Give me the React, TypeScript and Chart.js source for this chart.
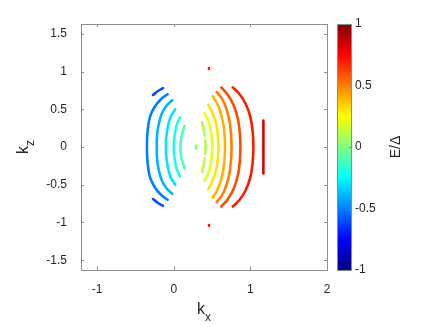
import React, { useEffect, useRef } from "react";
import { Chart, registerables } from "chart.js";
Chart.register(...registerables);

// axis ticks
const xTicks = [-1, 0, 1, 2];
const yTicks = [-1.5, -1, -0.5, 0, 0.5, 1, 1.5];
const cbTicks = [-1, -0.5, 0, 0.5, 1];
const cbTickLabels = ["-1", "-0.5", "0", "0.5", "1"];

// contour pieces [kx, kz], E/Δ level noted per array
const arcM06a = [[-0.27, 0.69], [-0.2, 0.745], [-0.14, 0.78]]; // -0.6
const arcM06b = [[-0.27, -0.69], [-0.2, -0.745], [-0.14, -0.78]]; // -0.6
const arcM05 = [[-0.08, 0.7], [-0.17, 0.63], [-0.25, 0.53], [-0.31, 0.4], [-0.34, 0.22], [-0.35, 0], [-0.34, -0.22], [-0.31, -0.4], [-0.25, -0.53], [-0.17, -0.63], [-0.08, -0.7]];
const arcM04 = [[-0.02, 0.62], [-0.1, 0.54], [-0.16, 0.43], [-0.2, 0.28], [-0.22, 0.12], [-0.22, 0], [-0.22, -0.12], [-0.2, -0.28], [-0.16, -0.43], [-0.1, -0.54], [-0.02, -0.62]];
const arcM03 = [[0.02, 0.5], [-0.04, 0.4], [-0.08, 0.25], [-0.1, 0.1], [-0.1, 0], [-0.1, -0.1], [-0.08, -0.25], [-0.04, -0.4], [0.02, -0.5]];
const arcM02 = [[0.08, 0.39], [0.035, 0.28], [0.01, 0.14], [0, 0], [0.01, -0.14], [0.035, -0.28], [0.08, -0.39]];
const arcM01 = [[0.14, 0.28], [0.105, 0.16], [0.09, 0.05], [0.09, -0.05], [0.105, -0.16], [0.14, -0.28]];
const dot00 = [[0.29, 0.02], [0.29, -0.02]];
const arcP01a = [[0.37, 0.33], [0.395, 0.22], [0.405, 0.15]];
const arcP01b = [[0.41, 0.09], [0.415, 0], [0.41, -0.09]];
const arcP01c = [[0.405, -0.15], [0.395, -0.22], [0.37, -0.33]];
const arcP02 = [[0.4, 0.45], [0.45, 0.35], [0.48, 0.22], [0.5, 0.08], [0.5, -0.08], [0.48, -0.22], [0.45, -0.35], [0.4, -0.45]];
const arcP03 = [[0.45, 0.56], [0.5, 0.46], [0.55, 0.32], [0.575, 0.16], [0.585, 0], [0.575, -0.16], [0.55, -0.32], [0.5, -0.46], [0.45, -0.56]];
const arcP04 = [[0.51, 0.67], [0.57, 0.57], [0.62, 0.43], [0.655, 0.25], [0.67, 0], [0.655, -0.25], [0.62, -0.43], [0.57, -0.57], [0.51, -0.67]];
const arcP05 = [[0.56, 0.73], [0.63, 0.64], [0.69, 0.5], [0.735, 0.3], [0.755, 0], [0.735, -0.3], [0.69, -0.5], [0.63, -0.64], [0.56, -0.73]];
const arcP06 = [[0.62, 0.79], [0.7, 0.7], [0.78, 0.56], [0.84, 0.36], [0.865, 0.15], [0.87, 0], [0.865, -0.15], [0.84, -0.36], [0.78, -0.56], [0.7, -0.7], [0.62, -0.79]];
const arcP07 = [[0.77, 0.79], [0.86, 0.7], [0.94, 0.57], [1.0, 0.4], [1.03, 0.2], [1.04, 0], [1.03, -0.2], [1.0, -0.4], [0.94, -0.57], [0.86, -0.7], [0.77, -0.79]];
const lineP08 = [[1.17, 0.35], [1.17, -0.35]];
const dotP07a = [[0.46, 1.045], [0.46, 1.035]];
const dotP07b = [[0.46, -1.035], [0.46, -1.045]];

const pieces: [number, number[][]][] = [
  [-0.6, arcM06a], [-0.6, arcM06b], [-0.5, arcM05], [-0.4, arcM04], [-0.3, arcM03],
  [-0.2, arcM02], [-0.1, arcM01], [0, dot00], [0.1, arcP01a], [0.1, arcP01b], [0.1, arcP01c],
  [0.2, arcP02], [0.3, arcP03], [0.4, arcP04], [0.5, arcP05], [0.6, arcP06], [0.7, arcP07],
  [0.8, lineP08], [0.7, dotP07a], [0.7, dotP07b],
];

function clamp(v: number) { return Math.max(0, Math.min(1, v)); }
function jet(E: number) {
  const t = (E + 1) / 2;
  const r = clamp(1.5 - Math.abs(4 * t - 3));
  const g = clamp(1.5 - Math.abs(4 * t - 2));
  const b = clamp(1.5 - Math.abs(4 * t - 1));
  return `rgb(${Math.round(r * 255)},${Math.round(g * 255)},${Math.round(b * 255)})`;
}

const FONT = "'Liberation Sans', Arial, Helvetica, sans-serif";
const TXT = "#262626";
const AX = "#8c8c8c";

const overlay = {
  id: "overlay",
  afterDraw(chart: any) {
    const ctx = chart.ctx;
    const { left, right, top, bottom } = chart.chartArea;
    const xs = chart.scales.x, ys = chart.scales.y;
    ctx.save();
    // frame
    ctx.strokeStyle = AX;
    ctx.lineWidth = 1;
    ctx.strokeRect(Math.round(left) + 0.5, Math.round(top) + 0.5, Math.round(right - left), Math.round(bottom - top));
    ctx.beginPath();
    for (const v of xTicks) {
      const x = Math.round(xs.getPixelForValue(v)) + 0.5;
      ctx.moveTo(x, bottom); ctx.lineTo(x, bottom - 3);
      ctx.moveTo(x, top); ctx.lineTo(x, top + 3);
    }
    for (const v of yTicks) {
      const y = Math.round(ys.getPixelForValue(v)) + 0.5;
      ctx.moveTo(left, y); ctx.lineTo(left + 3, y);
      ctx.moveTo(right, y); ctx.lineTo(right - 3, y);
    }
    ctx.stroke();

    // x title k_x
    ctx.fillStyle = TXT;
    ctx.textBaseline = "alphabetic";
    ctx.textAlign = "left";
    ctx.font = `16px ${FONT}`;
    const kw = ctx.measureText("k").width;
    const kx = (left + right) / 2 - 7;
    ctx.fillText("k", kx, 314);
    ctx.font = `12px ${FONT}`;
    ctx.fillText("x", kx + kw, 321);

    // y title k_z
    ctx.save();
    ctx.translate(28, 154);
    ctx.rotate(-Math.PI / 2);
    ctx.font = `16px ${FONT}`;
    ctx.fillText("k", 0, 0);
    ctx.font = `12px ${FONT}`;
    ctx.fillText("z", kw, 6);
    ctx.restore();

    // colorbar
    const cbL = 337, cbR = 352, cbT = top, cbB = bottom;
    const grad = ctx.createLinearGradient(0, cbB, 0, cbT);
    for (let i = 0; i <= 64; i++) {
      const f = i / 64;
      grad.addColorStop(f, jet(-1 + 2 * f));
    }
    ctx.fillStyle = grad;
    ctx.fillRect(cbL, cbT, cbR - cbL, cbB - cbT);
    ctx.strokeStyle = AX;
    ctx.strokeRect(cbL + 0.5, Math.round(cbT) + 0.5, cbR - cbL - 1, Math.round(cbB - cbT));
    ctx.font = `12px ${FONT}`;
    ctx.fillStyle = TXT;
    ctx.textBaseline = "middle";
    ctx.textAlign = "left";
    cbTicks.forEach((v, i) => {
      const y = cbB - ((v + 1) / 2) * (cbB - cbT);
      ctx.beginPath();
      ctx.moveTo(cbR, Math.round(y) + 0.5);
      ctx.lineTo(cbR - 3, Math.round(y) + 0.5);
      ctx.stroke();
      ctx.fillText(cbTickLabels[i], 355, y);
    });
    ctx.save();
    ctx.translate(400, (cbT + cbB) / 2);
    ctx.rotate(-Math.PI / 2);
    ctx.textAlign = "center";
    ctx.textBaseline = "alphabetic";
    ctx.font = `14px ${FONT}`;
    ctx.fillText("E/Δ", 0, 0);
    ctx.restore();
    ctx.restore();
  },
};

export default function App() {
  const ref = useRef<HTMLCanvasElement>(null);
  useEffect(() => {
    const datasets = pieces.map(([E, pts]) => ({
      data: pts.map(([x, y]) => ({ x, y })),
      showLine: true,
      borderColor: jet(E),
      backgroundColor: jet(E),
      borderWidth: 2.6,
      borderCapStyle: "round" as const,
      borderJoinStyle: "round" as const,
      pointRadius: 0,
      tension: 0.4,
    }));
    const chart = new Chart(ref.current!, {
      type: "scatter",
      data: { datasets },
      options: {
        animation: false,
        responsive: false,
        maintainAspectRatio: false,
        devicePixelRatio: 1,
        layout: { padding: { top: 24, right: 109, left: 0, bottom: 0 } },
        plugins: { legend: { display: false }, tooltip: { enabled: false } },
        scales: {
          x: {
            type: "linear",
            min: -1.21,
            max: 2,
            afterBuildTicks: (s: any) => { s.ticks = xTicks.map((v) => ({ value: v })); },
            afterFit: (s: any) => { s.height = 57; },
            grid: { display: false },
            border: { display: false },
            ticks: { color: TXT, font: { family: FONT, size: 12 }, padding: 4, maxRotation: 0, callback: (v: any) => String(v) },
          },
          y: {
            type: "linear",
            min: -1.63,
            max: 1.63,
            afterBuildTicks: (s: any) => { s.ticks = yTicks.map((v) => ({ value: v })); },
            afterFit: (s: any) => { s.width = 81; },
            grid: { display: false },
            border: { display: false },
            ticks: { color: TXT, font: { family: FONT, size: 12 }, padding: 6, callback: (v: any) => String(v) },
          },
        },
      },
      plugins: [overlay],
    });
    return () => chart.destroy();
  }, []);
  return (
    <div style={{ position: "fixed", left: 0, top: 0, width: 436, height: 327, background: "#fff" }}>
      <canvas ref={ref} width={436} height={327} />
    </div>
  );
}
